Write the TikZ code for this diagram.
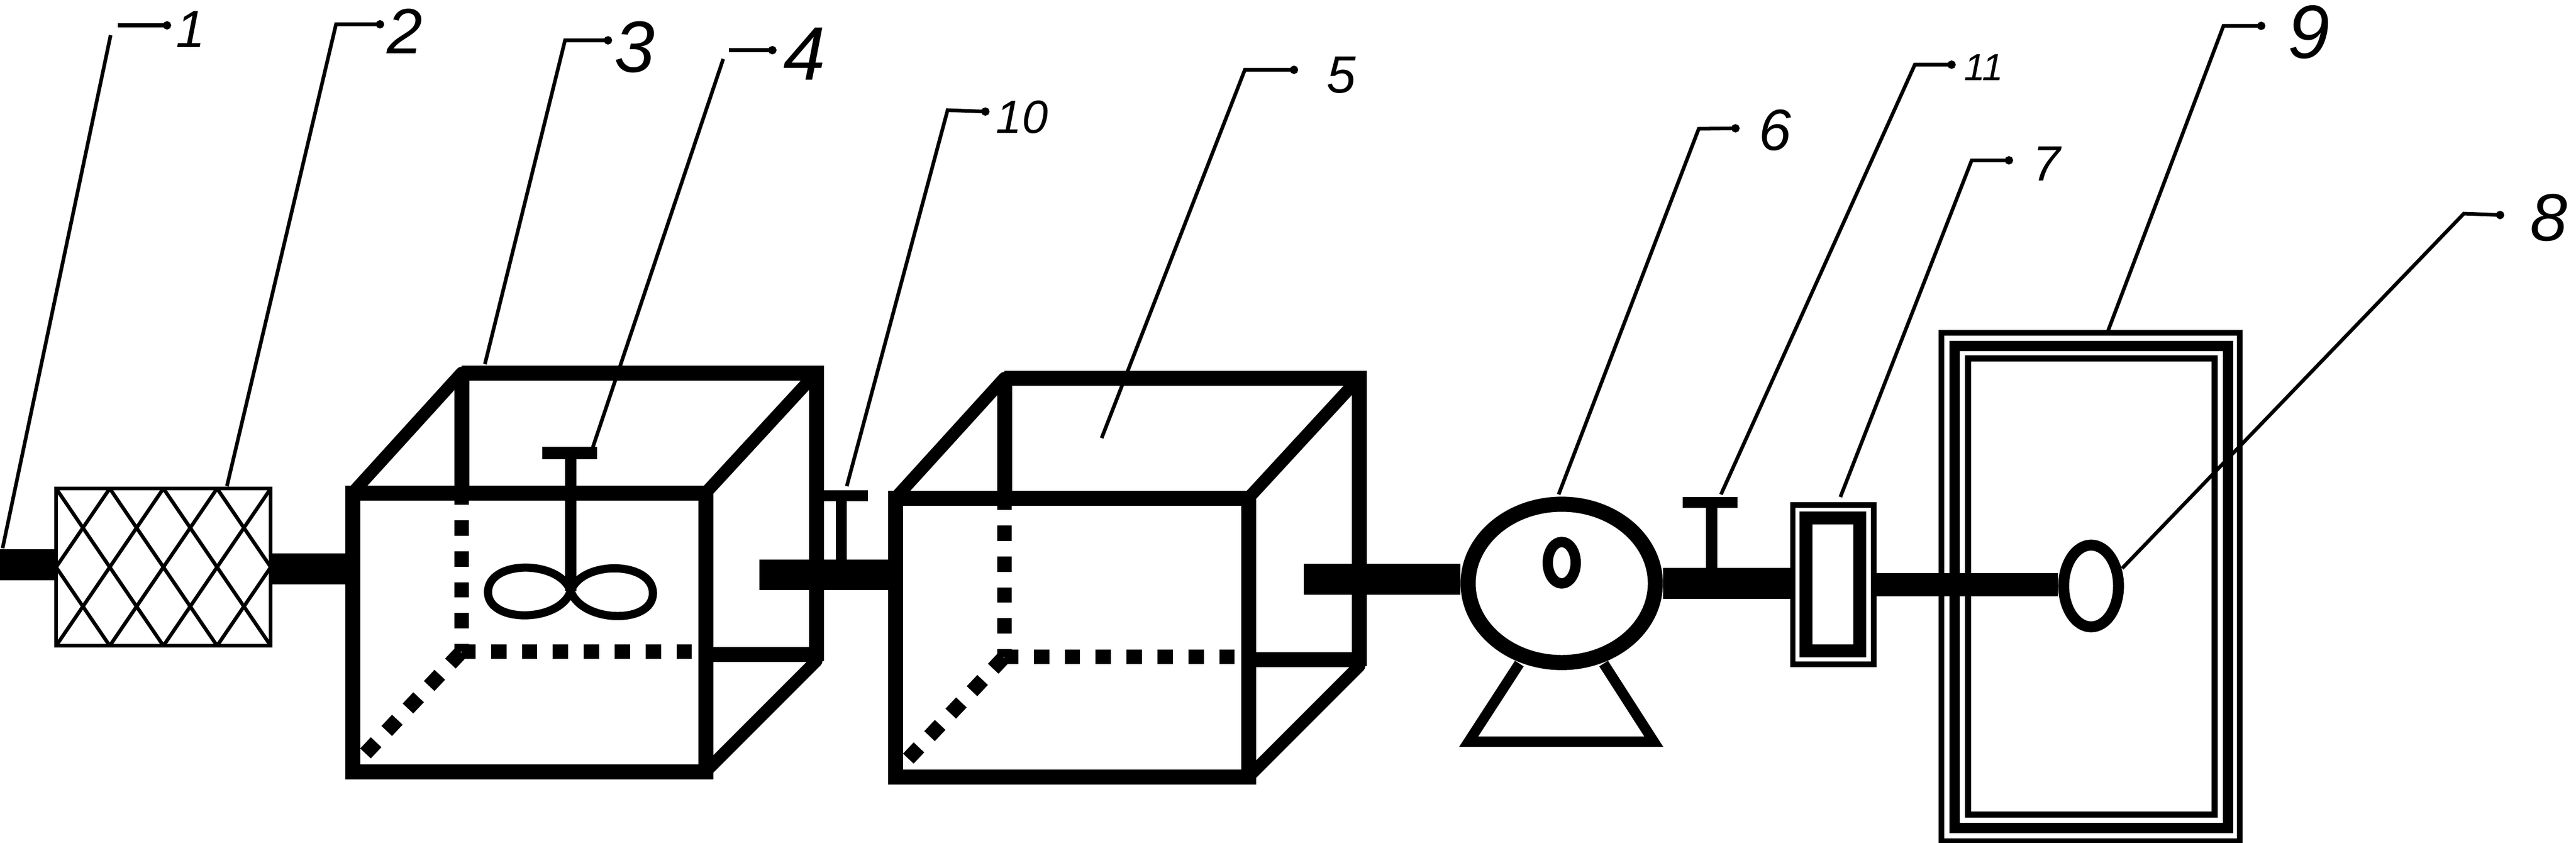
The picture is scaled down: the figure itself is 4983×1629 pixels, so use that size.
\documentclass[tikz,border=0pt]{standalone}
\usepackage{fontspec}
\newfontfamily\numfont{Liberation Sans}
\usetikzlibrary{arrows.meta, shapes.geometric}
\tikzset{
    pipe/.style={line width=17pt},
    tankwall/.style={line width=8.25pt, line join=miter},
    tankedge/.style={line width=6.8pt, line cap=round},
    hidden/.style={line width=8pt, dash pattern=on 8.5pt off 8.5pt},
    box/.style={draw, rectangle, inner sep=0pt},
    ring/.style={draw, ellipse, inner sep=0pt},
    bar/.style={fill, rectangle, inner sep=0pt, minimum width=.85cm, minimum height=.21cm},
    stem/.style={line width=6pt},
    leader/.style={line width=2pt},
    tag/.style={leader, -{Circle[length=4.5pt, width=4.5pt]}},
    numlabel/.style={font=\fontsize{32}{32}\selectfont\numfont\itshape, inner sep=0pt}
}
\begin{document}
\begin{tikzpicture}[x=0.01cm, y=-0.01cm]
    \useasboundingbox (0,0) rectangle (4983,1629);

    % filter with lattice
    \node[box, line width=2pt, minimum width=4.15cm, minimum height=3.04cm] (filter) at (316,1096.5) {};
    \begin{scope}[shift={(108.5,944.5)}, x=1.0375cm, y=-1.52cm]
        \foreach \a/\b/\c/\d in {0/0/2/2, 1/0/3/2, 2/0/4/2, 3/0/4/1, 0/1/1/2, 1/0/0/1, 2/0/0/2, 3/0/1/2, 4/0/2/2, 4/1/3/2}
            \draw[line width=2pt] (\a,\b) -- (\c,\d);
    \end{scope}

    % both open tanks
    \foreach \n/\dx/\dy in {mix/0/0, settle/1050/10} {
        \begin{scope}[shift={(\dx,\dy)}]
            \coordinate (\n-ftl) at (682,953);
            \coordinate (\n-ftr) at (1365,953);
            \coordinate (\n-fbr) at (1365,1492);
            \coordinate (\n-fbl) at (682,1492);
            \coordinate (\n-btl) at (893,721);
            \coordinate (\n-btr) at (1579,721);
            \coordinate (\n-bbr) at (1579,1265);
            \coordinate (\n-bbl) at (893,1260);
            \coordinate (\n-bend) at (1579,1278);
            \coordinate (\n-up) at (893,966);
            \coordinate (\n-side) at (1344,1260);
            \coordinate (\n-low) at (705,1459);
        \end{scope}
        \draw[tankwall] (\n-ftl) rectangle (\n-fbr);
        \draw[tankwall] (\n-btl) -- (\n-btr) -- (\n-bend);
        \draw[tankwall] (\n-btl) -- (\n-btl |- \n-ftl);
        \draw[tankwall] (\n-fbr |- \n-bbr) -- (\n-bbr);
        \draw[tankedge] (\n-ftl) -- (\n-btl);
        \draw[tankedge] (\n-ftr) -- (\n-btr);
        \draw[tankedge] (\n-fbr) -- (\n-bend);
        \draw[hidden, dash phase=4.25pt] (\n-bbl) -- (\n-up);
        \draw[hidden, dash phase=.85pt] (\n-bbl) -- (\n-side);
        \draw[hidden, dash phase=16.5pt] (\n-bbl) -- (\n-low);
    }

    % stirrer
    \node[bar, minimum width=1.05cm, minimum height=.24cm] (hub) at (1102,876) {};
    \coordinate (hubend) at (1104,1143);
    \draw[stem] (hub.center -| hubend) -- (hubend);
    \draw[line width=4.5pt] (hubend) .. controls (1082,1082) and (944,1082) .. (944,1145)
        .. controls (944,1205) and (1082,1205) .. (hubend);
    \draw[line width=4.5pt] (hubend) .. controls (1126,1082) and (1263,1085) .. (1263,1147)
        .. controls (1263,1208) and (1126,1205) .. (hubend);

    % pump, valves and the end units
    \node[ring, line width=8.3pt, minimum width=3.62cm, minimum height=3.06cm] (pump) at (3021,1128) {};
    \node[ring, line width=5.7pt, minimum width=.54cm, minimum height=.8cm] (rotor) at (3021,1088) {};
    \coordinate (legA) at (2939,1283);
    \coordinate (legB) at (2841,1434);
    \coordinate (legC) at (3199,1434);
    \coordinate (legD) at (3102,1283);
    \draw[line width=5.7pt, line join=miter] (legA) -- (legB) -- (legC) -- (legD);

    \node[bar] (valve10) at (1636,958.5) {};
    \node[bar, minimum width=1.06cm] (valve11) at (3308,971) {};
    \coordinate (v10foot) at (1627.5,1111.5);
    \coordinate (v11foot) at (3311,1130);
    \draw[stem] (v10foot |- valve10.center) -- (v10foot);
    \draw[stem] (v11foot |- valve11.center) -- (v11foot);

    \node[box, line width=3.1pt, minimum width=1.56cm, minimum height=3.075cm] (meterout) at (3546,1130.25) {};
    \node[box, line width=7.1pt, minimum width=1.04cm, minimum height=2.565cm] (meter) at (3545.5,1130.25) {};

    \node[box, line width=3.2pt, minimum width=5.76cm, minimum height=9.825cm] (houseout) at (4044,1134.75) {};
    \node[box, line width=5.7pt, minimum width=5.28cm, minimum height=9.315cm] (house) at (4045.5,1134.75) {};
    \node[box, line width=3.4pt, minimum width=4.77cm, minimum height=8.82cm] (housein) at (4045.5,1134) {};
    \node[ring, line width=6pt, minimum width=1.06cm, minimum height=1.58cm] (nozzle) at (4045,1133) {};

    % pipes
    \coordinate (inlet) at (0,1092);
    \coordinate (tankinA) at (682,1100);
    \coordinate (pipeA) at (1469,1111.5);
    \coordinate (tankinB) at (1732,1111.5);
    \coordinate (pipeB) at (2522,1120);
    \draw[pipe] (inlet) -- (inlet -| filter.west);
    \draw[pipe] (filter.east |- tankinA) -- (tankinA);
    \draw[pipe] (pipeA) -- (tankinB);
    \draw[pipe] (pipeB) -- (pipeB -| pump.west);
    \draw[pipe] (pump.east) -- (pump.east -| meterout.west);
    \draw[line width=12.8pt] (meterout.east) -- (meterout.east -| nozzle.west);

    % numbers with their lead lines
    \coordinate (t1) at (5,1060);     \coordinate (b1) at (214,68);    \coordinate (c1) at (228,49);    \coordinate (e1) at (331,49);
    \coordinate (t2) at (439,940);    \coordinate (b2) at (650,47);    \coordinate (e2) at (743,47);
    \coordinate (t3) at (938,704);    \coordinate (b3) at (1093,78);   \coordinate (e3) at (1184,78);
    \coordinate (t4) at (1144,873);   \coordinate (b4) at (1399,114);  \coordinate (c4) at (1410,97);   \coordinate (e4) at (1502,97);
    \coordinate (t5) at (2131,847);   \coordinate (b5) at (2408,135);  \coordinate (e5) at (2511,135);
    \coordinate (t6) at (3015,956);   \coordinate (b6) at (3286,249);  \coordinate (e6) at (3365,248);
    \coordinate (t7) at (3560,961);   \coordinate (b7) at (3814,310);  \coordinate (e7) at (3894,310);
    \coordinate (t8) at (4105,1099);  \coordinate (b8) at (4766,413);  \coordinate (e8) at (4844,416);
    \coordinate (t9) at (4078,639);   \coordinate (b9) at (4301,50);   \coordinate (e9) at (4382,50);
    \coordinate (t10) at (1638,940);  \coordinate (b10) at (1833,213); \coordinate (e10) at (1914,216);
    \coordinate (t11) at (3329,956);  \coordinate (b11) at (3704,125); \coordinate (e11) at (3783,125);

    \draw[leader] (t1) -- (b1);
    \draw[tag] (c1) -- (e1);
    \draw[tag] (t2) -- (b2) -- (e2);
    \draw[tag] (t3) -- (b3) -- (e3);
    \draw[leader] (t4) -- (b4);
    \draw[tag] (c4) -- (e4);
    \draw[tag] (t5) -- (b5) -- (e5);
    \draw[tag] (t6) -- (b6) -- (e6);
    \draw[tag] (t7) -- (b7) -- (e7);
    \draw[tag] (t8) -- (b8) -- (e8);
    \draw[tag] (t9) -- (b9) -- (e9);
    \draw[tag] (t10) -- (b10) -- (e10);
    \draw[tag] (t11) -- (b11) -- (e11);

    \node[numlabel, scale=.9]  (lab1) at (369,57) {1};
    \node[numlabel, scale=1.1] (lab2) at (783,60) {2};
    \node[numlabel, scale=1.25] (lab3) at (1228,91) {3};
    \node[numlabel, scale=1.3] (lab4) at (1556,104) {4};
    \node[numlabel, scale=.9]  (lab5) at (2595,145) {5};
    \node[numlabel, scale=1]   (lab6) at (3434,252) {6};
    \node[numlabel, scale=.85] (lab7) at (3959,317) {7};
    \node[numlabel, scale=1.15] (lab8) at (4930,421) {8};
    \node[numlabel, scale=1.3] (lab9) at (4466,62) {9};
    \node[numlabel, scale=.8]  (lab10) at (1977,226) {10};
    \node[numlabel, scale=.65] (lab11) at (3837,130) {11};
\end{tikzpicture}
\end{document}
